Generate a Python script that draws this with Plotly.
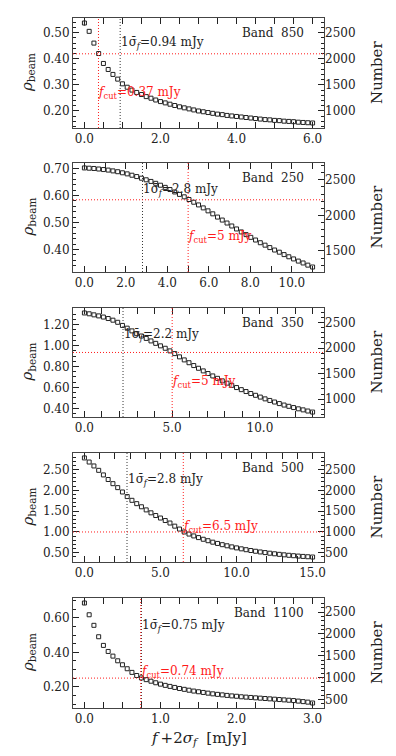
"""Beam density versus flux cut for five bands (stacked panels)."""

import plotly.graph_objects as go
from plotly.subplots import make_subplots

bands = ["850", "250", "350", "500", "1100"]

flux_850 = [0.000, 0.125, 0.250, 0.375, 0.500, 0.625, 0.750, 0.875, 1.000, 1.125, 1.250, 1.375, 1.500,
            1.625, 1.750, 1.875, 2.000, 2.125, 2.250, 2.375, 2.500, 2.625, 2.750, 2.875, 3.000, 3.125,
            3.250, 3.375, 3.500, 3.625, 3.750, 3.875, 4.000, 4.125, 4.250, 4.375, 4.500, 4.625, 4.750,
            4.875, 5.000, 5.125, 5.250, 5.375, 5.500, 5.625, 5.750, 5.875, 6.000]
rho_850 = [0.537, 0.505, 0.460, 0.420, 0.382, 0.359, 0.340, 0.322, 0.304, 0.291, 0.280, 0.271, 0.263,
           0.255, 0.249, 0.242, 0.236, 0.231, 0.226, 0.221, 0.216, 0.212, 0.208, 0.204, 0.200, 0.197,
           0.194, 0.191, 0.188, 0.186, 0.183, 0.181, 0.179, 0.177, 0.175, 0.173, 0.171, 0.169, 0.167,
           0.166, 0.164, 0.163, 0.161, 0.160, 0.159, 0.157, 0.156, 0.155, 0.154]

flux_250 = [0.000, 0.229, 0.458, 0.688, 0.917, 1.146, 1.375, 1.604, 1.833, 2.062, 2.292, 2.521, 2.750,
            2.979, 3.208, 3.438, 3.667, 3.896, 4.125, 4.354, 4.583, 4.812, 5.042, 5.271, 5.500, 5.729,
            5.958, 6.188, 6.417, 6.646, 6.875, 7.104, 7.333, 7.562, 7.792, 8.021, 8.250, 8.479, 8.708,
            8.938, 9.167, 9.396, 9.625, 9.854, 10.083, 10.312, 10.542, 10.771, 11.000]
rho_250 = [0.702, 0.701, 0.700, 0.698, 0.696, 0.694, 0.691, 0.688, 0.684, 0.680, 0.675, 0.670, 0.664,
           0.658, 0.652, 0.645, 0.638, 0.630, 0.622, 0.613, 0.604, 0.595, 0.585, 0.575, 0.565, 0.554,
           0.543, 0.532, 0.520, 0.509, 0.498, 0.487, 0.476, 0.465, 0.455, 0.445, 0.435, 0.425, 0.416,
           0.407, 0.398, 0.390, 0.381, 0.373, 0.365, 0.357, 0.350, 0.342, 0.335]

flux_350 = [0.000, 0.271, 0.542, 0.812, 1.083, 1.354, 1.625, 1.896, 2.167, 2.438, 2.708, 2.979, 3.250,
            3.521, 3.792, 4.062, 4.333, 4.604, 4.875, 5.146, 5.417, 5.688, 5.958, 6.229, 6.500, 6.771,
            7.042, 7.312, 7.583, 7.854, 8.125, 8.396, 8.667, 8.938, 9.208, 9.479, 9.750, 10.021, 10.292,
            10.562, 10.833, 11.104, 11.375, 11.646, 11.917, 12.188, 12.458, 12.729, 13.000]
rho_350 = [1.311, 1.303, 1.293, 1.283, 1.272, 1.258, 1.242, 1.222, 1.192, 1.166, 1.140, 1.113, 1.091,
           1.068, 1.044, 1.021, 0.997, 0.974, 0.949, 0.923, 0.892, 0.863, 0.836, 0.809, 0.783, 0.758,
           0.733, 0.710, 0.687, 0.663, 0.641, 0.620, 0.599, 0.579, 0.561, 0.542, 0.525, 0.508, 0.491,
           0.476, 0.461, 0.446, 0.432, 0.420, 0.408, 0.396, 0.386, 0.375, 0.365]

flux_500 = [0.000, 0.312, 0.625, 0.938, 1.250, 1.562, 1.875, 2.188, 2.500, 2.812, 3.125, 3.438, 3.750,
            4.062, 4.375, 4.688, 5.000, 5.312, 5.625, 5.938, 6.250, 6.562, 6.875, 7.188, 7.500, 7.812,
            8.125, 8.438, 8.750, 9.062, 9.375, 9.688, 10.000, 10.312, 10.625, 10.938, 11.250, 11.562,
            11.875, 12.188, 12.500, 12.812, 13.125, 13.438, 13.750, 14.062, 14.375, 14.688, 15.000]
rho_500 = [2.778, 2.680, 2.585, 2.480, 2.370, 2.260, 2.160, 2.065, 1.960, 1.850, 1.760, 1.680, 1.605,
           1.530, 1.460, 1.395, 1.335, 1.275, 1.215, 1.140, 1.070, 1.000, 0.950, 0.905, 0.865, 0.825,
           0.790, 0.755, 0.725, 0.695, 0.668, 0.642, 0.618, 0.595, 0.574, 0.555, 0.537, 0.520, 0.505,
           0.490, 0.476, 0.463, 0.451, 0.440, 0.430, 0.421, 0.413, 0.405, 0.398]

flux_1100 = [0.0000, 0.0625, 0.1250, 0.1875, 0.2500, 0.3125, 0.3750, 0.4375, 0.5000, 0.5625, 0.6250,
             0.6875, 0.7500, 0.8125, 0.8750, 0.9375, 1.0000, 1.0625, 1.1250, 1.1875, 1.2500, 1.3125,
             1.3750, 1.4375, 1.5000, 1.5625, 1.6250, 1.6875, 1.7500, 1.8125, 1.8750, 1.9375, 2.0000,
             2.0625, 2.1250, 2.1875, 2.2500, 2.3125, 2.3750, 2.4375, 2.5000, 2.5625, 2.6250, 2.6875,
             2.7500, 2.8125, 2.8750, 2.9375, 3.0000]
rho_1100 = [0.685, 0.617, 0.556, 0.490, 0.440, 0.405, 0.378, 0.351, 0.328, 0.305, 0.284, 0.266, 0.252,
            0.242, 0.233, 0.224, 0.216, 0.209, 0.203, 0.197, 0.191, 0.186, 0.181, 0.176, 0.172, 0.168,
            0.164, 0.160, 0.157, 0.154, 0.151, 0.148, 0.146, 0.143, 0.141, 0.139, 0.137, 0.135, 0.133,
            0.131, 0.129, 0.127, 0.125, 0.123, 0.121, 0.118, 0.115, 0.112, 0.107]

# error only noticeable on the end points
err_first = [0.010, 0.006, 0.012, 0.030, 0.012]
err_last = [0.0, 0.0, 0.0, 0.0, 0.006]

sigma_f = [0.94, 2.8, 2.2, 2.8, 0.75]
sigma_labels = ["0.94", "2.8", "2.2", "2.8", "0.75"]
f_cut = [0.37, 5, 5, 6.5, 0.74]
cut_labels = ["0.37", "5", "5", "6.5", "0.74"]
rho_cut = [0.419, 0.584, 0.934, 1.00, 0.251]
number_per_rho = [5000, 3800, 2050, 1000, 3950]

flux = [flux_850, flux_250, flux_350, flux_500, flux_1100]
rho = [rho_850, rho_250, rho_350, rho_500, rho_1100]

# label positions (rho units) for the two annotations in each panel
sigma_text_y = [0.462, 0.620, 1.105, 2.26, 0.554]
cut_text_y = [0.269, 0.447, 0.648, 1.12, 0.287]

x_dtick = [2, 2, 5, 5, 1]
x_minor = [0.5, 1, 1, 1, 0.25]
y_dtick = [0.1, 0.1, 0.2, 0.5, 0.2]
y_minor = [0.02, 0.02, 0.05, 0.1, 0.05]

FONT = "DejaVu Serif"
INK = "#222222"
RED = "#ff1a1a"
DOTS = "1px,2px"
domains = [[0.8406, 1.0], [0.6319, 0.7899], [0.4217, 0.5797], [0.2116, 0.3696], [0.0, 0.1594]]

fig = make_subplots(rows=5, cols=1, specs=[[{"secondary_y": True}]] * 5)

for k in range(5):
    row = k + 1
    n = len(rho[k])
    err = [err_first[k]] + [0.0] * (n - 2) + [err_last[k]]
    fig.add_trace(
        go.Scatter(
            x=flux[k], y=rho[k], mode="markers",
            marker={"symbol": "square-open", "size": 4, "color": INK, "line": {"width": 1, "color": INK}},
            error_y={"type": "data", "array": err, "visible": True, "color": INK, "thickness": 1, "width": 0},
            showlegend=False, hoverinfo="x+y",
        ),
        row=row, col=1, secondary_y=False,
    )
    # invisible companion so the "Number" axis gets drawn
    fig.add_trace(
        go.Scatter(
            x=flux[k], y=[v * number_per_rho[k] for v in rho[k]], mode="markers",
            marker={"opacity": 0}, showlegend=False, hoverinfo="skip",
        ),
        row=row, col=1, secondary_y=True,
    )

    lo, hi = min(rho[k]), max(rho[k])
    pad = 0.05 * (hi - lo)
    y_range = [lo - pad, hi + pad]
    xmax = max(flux[k])
    x_range = [-0.05 * xmax, 1.05 * xmax]

    xref = "x" if row == 1 else f"x{row}"
    yref = "y" if row == 1 else f"y{2 * row - 1}"

    # vertical and horizontal dotted guide lines
    fig.add_shape(type="line", xref=xref, yref=f"{yref} domain", x0=sigma_f[k], x1=sigma_f[k], y0=0, y1=1,
                  line={"color": "#333333", "width": 1, "dash": DOTS})
    fig.add_shape(type="line", xref=xref, yref=f"{yref} domain", x0=f_cut[k], x1=f_cut[k], y0=0, y1=1,
                  line={"color": RED, "width": 1, "dash": DOTS})
    fig.add_shape(type="line", xref=f"{xref} domain", yref=yref, x0=0, x1=1, y0=rho_cut[k], y1=rho_cut[k],
                  line={"color": RED, "width": 1, "dash": DOTS})

    fig.add_annotation(xref=xref, yref=yref, x=sigma_f[k], y=sigma_text_y[k], xanchor="left", yanchor="middle",
                       text=f"1\u03c3\u0304<sub><i>f</i></sub>={sigma_labels[k]} mJy", showarrow=False,
                       font={"family": FONT, "size": 12, "color": INK}, xshift=-1)
    fig.add_annotation(xref=xref, yref=yref, x=f_cut[k], y=cut_text_y[k], xanchor="left", yanchor="middle",
                       text=f"<i>f</i><sub>cut</sub>={cut_labels[k]} mJy", showarrow=False,
                       font={"family": FONT, "size": 12, "color": RED}, xshift=-2)
    fig.add_annotation(xref=f"{xref} domain", yref=f"{yref} domain", x=0.93, y=0.86, xanchor="right",
                       yanchor="middle", text=f"Band\u00a0 {bands[k]}", showarrow=False,
                       font={"family": FONT, "size": 12, "color": INK})

    # axis titles as annotations so their offsets are exact
    fig.add_annotation(xref="paper", yref=f"{yref} domain", x=0, y=0.5, xshift=-45, textangle=-90,
                       xanchor="center", yanchor="middle", showarrow=False,
                       text="<i>\u03c1</i><sub>beam</sub>", font={"family": FONT, "size": 15, "color": INK})
    fig.add_annotation(xref="paper", yref=f"{yref} domain", x=1, y=0.5, xshift=53, textangle=-90,
                       xanchor="center", yanchor="middle", showarrow=False,
                       text="Number", font={"family": FONT, "size": 15, "color": INK})

    fig.update_xaxes(
        row=row, col=1, domain=[0, 1], range=x_range, dtick=x_dtick[k], tick0=0, tickformat=".1f",
        ticks="inside", ticklen=6, tickcolor=INK, showline=True, linecolor="#444444", linewidth=1,
        mirror="allticks", showgrid=False, zeroline=False, automargin=False,
        minor={"ticks": "inside", "ticklen": 3, "dtick": x_minor[k], "tick0": 0, "tickcolor": INK, "showgrid": False},
        tickfont={"family": FONT, "size": 12, "color": INK},
    )
    fig.update_yaxes(
        row=row, col=1, secondary_y=False, domain=domains[k], range=y_range, dtick=y_dtick[k], tick0=0,
        tickformat=".2f", ticks="inside", ticklen=6, tickcolor=INK, showline=True, linecolor="#444444",
        linewidth=1, mirror=True, showgrid=False, zeroline=False, automargin=False,
        minor={"ticks": "inside", "ticklen": 3, "dtick": y_minor[k], "tick0": 0, "tickcolor": INK, "showgrid": False},
        tickfont={"family": FONT, "size": 12, "color": INK},
    )
    fig.update_yaxes(
        row=row, col=1, secondary_y=True, domain=domains[k], side="right",
        range=[number_per_rho[k] * y_range[0], number_per_rho[k] * y_range[1]], dtick=500, tick0=0,
        ticks="inside", ticklen=6, tickcolor=INK, showline=False, showgrid=False, zeroline=False,
        showticklabels=True, visible=True, automargin=False,
        minor={"ticks": "inside", "ticklen": 3, "dtick": 100, "tick0": 0, "tickcolor": INK, "showgrid": False},
        tickfont={"family": FONT, "size": 12, "color": INK},
    )

fig.add_annotation(xref="paper", yref="paper", x=0.5, y=0, yshift=-30, xanchor="center", yanchor="middle",
                   showarrow=False, text="<i>f</i>\u2009+2<i>\u03c3</i><sub><i>f</i></sub>\u00a0 [mJy]",
                   font={"family": FONT, "size": 15, "color": INK})

# the page body adds an 8px offset, so the figure is 8px smaller than the window
fig.update_layout(
    width=388, height=748,
    margin={"l": 65, "r": 72, "t": 10, "b": 48},
    paper_bgcolor="white", plot_bgcolor="white",
    font={"family": FONT, "color": INK},
    showlegend=False,
)

fig.write_html("out.html")
